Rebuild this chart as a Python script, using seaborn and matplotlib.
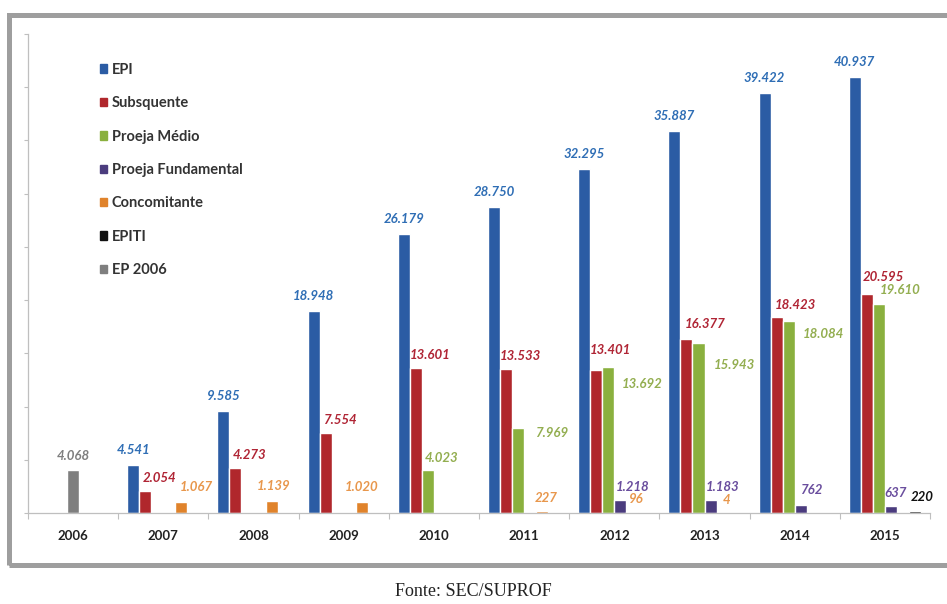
import pandas as pd
import numpy as np
import matplotlib.pyplot as plt
import matplotlib.patches as mpatches
from matplotlib.ticker import MultipleLocator, FixedLocator, NullFormatter
import seaborn as sns

# data (None = no bar)
years = ["2006", "2007", "2008", "2009", "2010", "2011", "2012", "2013", "2014", "2015"]
series = ["EPI", "Subsquente", "Proeja Médio", "Proeja Fundamental", "Concomitante", "EPITI"]
epi = [None, 4541, 9585, 18948, 26179, 28750, 32295, 35887, 39422, 40937]
subsequente = [None, 2054, 4273, 7554, 13601, 13533, 13401, 16377, 18423, 20595]
proeja_medio = [None, None, None, None, 4023, 7969, 13692, 15943, 18084, 19610]
proeja_fund = [None, None, None, None, None, None, 1218, 1183, 762, 637]
concomitante = [None, 1067, 1139, 1020, None, 227, 96, 4, None, None]
epiti = [None, None, None, None, None, None, None, None, None, 220]
ep2006 = [4068, None, None, None, None, None, None, None, None, None]

values = [epi, subsequente, proeja_medio, proeja_fund, concomitante, epiti]
rows = []
for name, vals in zip(series, values):
    for y, v in zip(years, vals):
        if v is not None:
            rows.append({"ano": y, "serie": name, "valor": v})
df = pd.DataFrame(rows)
df06 = pd.DataFrame({"ano": years, "valor": ep2006}).dropna()

bar_colors = {"EPI": "#2B5CA4", "Subsquente": "#B0272C", "Proeja Médio": "#8AB03E",
              "Proeja Fundamental": "#4B3C7E", "Concomitante": "#E0832B", "EPITI": "#111111"}
text_colors = {"EPI": "#2F6EB5", "Subsquente": "#B02535", "Proeja Médio": "#93AE50",
               "Proeja Fundamental": "#6A4E9E", "Concomitante": "#E8974C", "EPITI": "#111111"}
grey = "#7F7F7F"

# label nudges in pixels (dx, dy from bar top)
default_off = {"EPI": (0, 15), "Subsquente": (14, 13), "Proeja Médio": (34, -15),
               "Proeja Fundamental": (12, 13), "Concomitante": (4, 13), "EPITI": (7, 14)}
extra_off = {("Proeja Médio", "2010"): (14, 12), ("Proeja Médio", "2011"): (33, -5),
             ("Proeja Médio", "2012"): (34, -17), ("Proeja Médio", "2013"): (36, -22),
             ("Proeja Médio", "2014"): (35, -13), ("Proeja Médio", "2015"): (21, 14),
             ("Subsquente", "2012"): (14, 20), ("Subsquente", "2013"): (19, 15),
             ("Subsquente", "2014"): (19, 12), ("Subsquente", "2015"): (16, 17),
             ("Proeja Fundamental", "2014"): (10, 15), ("Proeja Fundamental", "2015"): (5, 13),
             ("Concomitante", "2007"): (15, 15), ("Concomitante", "2008"): (2, 15),
             ("Concomitante", "2009"): (0, 15)}

sns.set_style("white")
plt.rcParams["font.family"] = ["Lato", "DejaVu Sans"]

fig = plt.figure(figsize=(9.47, 6.04), dpi=100)
ax = fig.add_axes([28 / 947, 1 - 513 / 604, 902 / 947, 479 / 604])

sns.barplot(data=df, x="ano", y="valor", hue="serie", order=years, hue_order=series,
            palette=bar_colors, width=0.8, ax=ax, legend=False, errorbar=None, saturation=1)
sns.barplot(data=df06, x="ano", y="valor", order=years, color=grey, width=0.13,
            ax=ax, errorbar=None, saturation=1)

def fmt(v):
    return f"{int(v):,}".replace(",", ".")

for name, cont in zip(series, ax.containers[:len(series)]):
    for p in cont.patches:
        h = p.get_height()
        if np.isnan(h) or h <= 0:
            continue
        xc = p.get_x() + p.get_width() / 2
        yr = years[int(round(xc))]
        dx, dy = extra_off.get((name, yr), default_off[name])
        ax.annotate(fmt(h), (xc, h), xytext=(dx * 0.72, dy * 0.72), textcoords="offset points",
                    ha="center", va="center", fontsize=9.5, fontweight="bold", fontstyle="italic",
                    color=text_colors[name])
for p in ax.containers[-1].patches:
    h = p.get_height()
    if np.isnan(h) or h <= 0:
        continue
    xc = p.get_x() + p.get_width() / 2
    ax.annotate(fmt(h), (xc, h), xytext=(0, 14 * 0.72), textcoords="offset points",
                ha="center", va="center", fontsize=9.5, fontweight="bold", fontstyle="italic",
                color=grey)

ax.set_xlim(-0.5, 9.5)
ax.set_ylim(0, 45000)
ax.set_xlabel("")
ax.set_ylabel("")
ax.yaxis.set_major_locator(MultipleLocator(5000))
ax.yaxis.set_major_formatter(NullFormatter())
ax.tick_params(axis="y", left=True, length=3, width=0.8, color="#BFBFBF", direction="out")
ax.xaxis.set_minor_locator(FixedLocator(np.arange(-0.5, 10, 1)))
ax.tick_params(axis="x", which="major", length=0, pad=12, labelsize=9.5, labelcolor="#222222")
ax.tick_params(axis="x", which="minor", bottom=True, length=4, width=0.8, color="#BFBFBF")
for lab in ax.get_xticklabels():
    lab.set_fontweight("bold")
for side in ["top", "right"]:
    ax.spines[side].set_visible(False)
for side in ["left", "bottom"]:
    ax.spines[side].set_color("#BFBFBF")
    ax.spines[side].set_linewidth(0.9)

handles = [mpatches.Patch(color=bar_colors[s], label=s) for s in series]
handles.append(mpatches.Patch(color=grey, label="EP 2006"))
leg = ax.legend(handles=handles, loc="upper left", bbox_to_anchor=(0.08, 0.94), frameon=False,
                handlelength=0.5, handleheight=0.5, handletextpad=0.3, labelspacing=1.33,
                borderpad=0, borderaxespad=0, prop={"weight": "bold", "size": 10.5})
for t in leg.get_texts():
    t.set_color("#333333")

# grey frame around the chart
fig.patches.append(mpatches.Rectangle((9 / 947, 1 - 565 / 604), 960 / 947, 550 / 604,
                                      transform=fig.transFigure, fill=False,
                                      edgecolor="#9E9E9E", linewidth=3.6, zorder=0))

fig.text(0.5, 1 - 591 / 604, "Fonte: SEC/SUPROF", ha="center", va="center",
         fontsize=13, family="Liberation Serif", color="#222222")

fig.savefig("out.png", dpi=100)
